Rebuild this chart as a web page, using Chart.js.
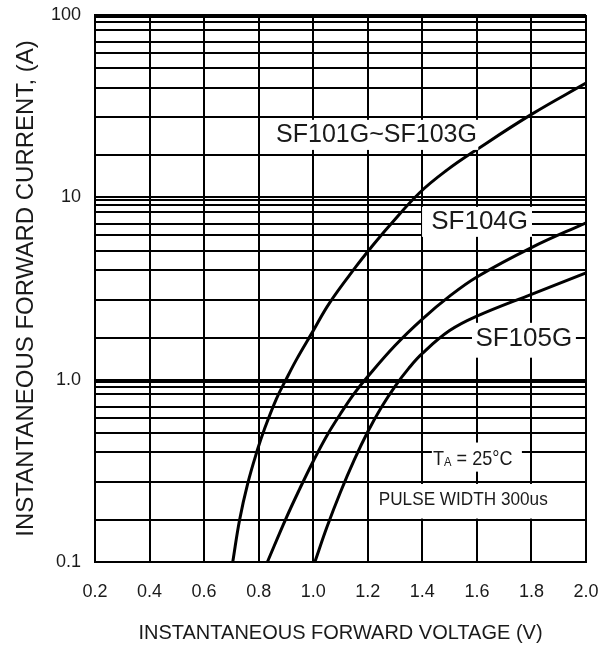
<!DOCTYPE html>
<html>
<head>
<meta charset="utf-8">
<script src="https://cdn.jsdelivr.net/npm/chart.js@4.4.1/dist/chart.umd.min.js"></script>
<style>
  html, body { margin: 0; padding: 0; background: #fff; }
  #wrap { width: 609px; height: 648px; }
</style>
</head>
<body>
<div id="wrap"><canvas id="pic_vf" width="609" height="648"></canvas></div>
<script>
// forward voltage (V) / forward current (A)
var vf101 = [0.705, 0.73, 0.76, 0.795, 0.82, 0.865, 0.9, 0.94, 0.995, 1.06, 1.16, 1.21, 1.28, 1.39, 1.49, 1.6, 1.8, 2.0];
var if101 = [0.1, 0.17, 0.27, 0.41, 0.53, 0.785, 1.0, 1.3, 1.8, 2.64, 4.23, 5.26, 7.01, 10.6, 14.1, 18.3, 28.5, 42.3];
var vf104 = [0.832, 0.9, 0.95, 1.0, 1.05, 1.1, 1.15, 1.2, 1.3, 1.4, 1.5, 1.6, 1.8, 2.0];
var if104 = [0.1, 0.173, 0.251, 0.357, 0.493, 0.65, 0.838, 1.04, 1.54, 2.15, 2.87, 3.66, 5.3, 7.25];
var vf105 = [1.006, 1.05, 1.1, 1.15, 1.2, 1.25, 1.3, 1.35, 1.4, 1.5, 1.6, 1.8, 2.0];
var if105 = [0.1, 0.155, 0.242, 0.362, 0.518, 0.706, 0.92, 1.153, 1.393, 1.858, 2.23, 2.94, 3.85];

var curveNames = ['SF101G~SF103G', 'SF104G', 'SF105G'];
var xTicks = [0.2, 0.4, 0.6, 0.8, 1.0, 1.2, 1.4, 1.6, 1.8, 2.0];
var yLabels = {0.1: '0.1', 1: '1.0', 10: '10', 100: '100'};
// the grid of the original is not a true log grid, these are where its lines sit in each decade
var decadeLines = [1, 1.7, 2.75, 4, 5.1, 6.2, 7.1, 8.3, 9.1, 9.7];
var decades = [0.1, 1, 10];

var FONT = "'Liberation Sans', Arial, sans-serif";

function pts(xs, ys) {
    return xs.map(function (v, i) { return {x: v, y: ys[i]}; });
}

var yGrid = [];
decades.forEach(function (d) {
    decadeLines.forEach(function (m) { yGrid.push(+(d * m).toPrecision(4)); });
});
yGrid.push(100);

// white boxes with text, in data units: box [x1, x2, yTop, yBottom], at [x, y]
var notes = [
    {text: curveNames[0], box: [0.852, 1.605, 26.6, 18.2], at: [1.232, 22], size: 25, w: 0},
    {text: curveNames[1], box: [1.399, 1.802, 8.87, 6.07], at: [1.61, 7.35], size: 26, w: 0},
    {text: curveNames[2], box: [1.582, 1.963, 2.05, 1.32], at: [1.772, 1.67], size: 26, w: 0},
    {text: 'PULSE WIDTH 300us', box: [1.208, 1.996, 0.268, 0.173], at: [1.55, 0.22], size: 19, w: 169}
];

var notesPlugin = {
    id: 'notes',
    afterDatasetsDraw: function (chart) {
        var c = chart.ctx, xs = chart.scales.x, ys = chart.scales.y;
        c.save();
        notes.forEach(function (n) {
            var x1 = xs.getPixelForValue(n.box[0]), x2 = xs.getPixelForValue(n.box[1]);
            var y1 = ys.getPixelForValue(n.box[2]), y2 = ys.getPixelForValue(n.box[3]);
            c.fillStyle = '#fff';
            c.fillRect(x1, y1, x2 - x1, y2 - y1);
            c.fillStyle = '#1a1a1a';
            c.font = n.size + 'px ' + FONT;
            c.textAlign = 'center';
            c.textBaseline = 'middle';
            var tx = xs.getPixelForValue(n.at[0]), ty = ys.getPixelForValue(n.at[1]);
            if (n.w) c.fillText(n.text, tx, ty, n.w);
            else c.fillText(n.text, tx, ty);
        });
        // T_A = 25°C with the small A
        var bx1 = xs.getPixelForValue(1.435), bx2 = xs.getPixelForValue(1.765);
        var by1 = ys.getPixelForValue(0.452), by2 = ys.getPixelForValue(0.313);
        c.fillStyle = '#fff';
        c.fillRect(bx1, by1, bx2 - bx1, by2 - by1);
        var cx = xs.getPixelForValue(1.585), cy = ys.getPixelForValue(0.378);
        c.fillStyle = '#1a1a1a';
        c.textBaseline = 'alphabetic';
        c.textAlign = 'left';
        c.translate(cx, cy + 8);
        c.scale(0.86, 1);
        c.font = '21px ' + FONT;
        var wT = c.measureText('T').width;
        var rest = ' = 25\u00B0C';
        c.font = '13px ' + FONT;
        var wA = c.measureText('A').width;
        c.font = '21px ' + FONT;
        var wR = c.measureText(rest).width;
        var x0 = -(wT + wA + wR) / 2;
        c.fillText('T', x0, 0);
        c.font = '13px ' + FONT;
        c.fillText('A', x0 + wT, 1);
        c.font = '21px ' + FONT;
        c.fillText(rest, x0 + wT + wA, 0);
        c.restore();
    }
};

function curve(label, data) {
    return {
        label: label,
        data: data,
        borderColor: '#000',
        backgroundColor: '#000',
        borderWidth: 3,
        pointRadius: 0,
        fill: false,
        tension: 0.4
    };
}

var chart = new Chart(document.getElementById('pic_vf').getContext('2d'), {
    type: 'line',
    data: {
        datasets: [
            curve(curveNames[0], pts(vf101, if101)),
            curve(curveNames[1], pts(vf104, if104)),
            curve(curveNames[2], pts(vf105, if105))
        ]
    },
    options: {
        responsive: false,
        animation: false,
        layout: {padding: {left: 0, right: 23, top: 15, bottom: 0}},
        plugins: {legend: {display: false}, tooltip: {enabled: false}},
        scales: {
            x: {
                type: 'linear',
                min: 0.2,
                max: 2.0,
                afterBuildTicks: function (s) { s.ticks = xTicks.map(function (v) { return {value: v}; }); },
                afterFit: function (s) { s.height = 86; s.paddingLeft = 0; s.paddingRight = 0; },
                grid: {color: '#000', lineWidth: 2, drawTicks: false},
                border: {color: '#000', width: 2},
                ticks: {
                    padding: 19,
                    color: '#1a1a1a',
                    font: {family: FONT, size: 18},
                    maxRotation: 0,
                    autoSkip: false,
                    callback: function (v) { return v.toFixed(1); }
                },
                title: {
                    display: true,
                    text: 'INSTANTANEOUS FORWARD VOLTAGE (V)',
                    color: '#1a1a1a',
                    font: {family: FONT, size: 20},
                    padding: {top: 0, bottom: 3}
                }
            },
            y: {
                type: 'logarithmic',
                min: 0.1,
                max: 100,
                afterBuildTicks: function (s) { s.ticks = yGrid.map(function (v) { return {value: v}; }); },
                afterFit: function (s) { s.width = 95; s.paddingTop = 0; s.paddingBottom = 0; },
                grid: {color: '#000', lineWidth: 2, drawTicks: false},
                border: {color: '#000', width: 2},
                ticks: {
                    padding: 14,
                    color: '#1a1a1a',
                    font: {family: FONT, size: 18},
                    autoSkip: false,
                    callback: function (v) { return yLabels[v] || ''; }
                },
                title: {
                    display: true,
                    text: 'INSTANTANEOUS FORWARD CURRENT, (A)',
                    color: '#1a1a1a',
                    font: {family: FONT, size: 24},
                    padding: {top: 12, bottom: 0}
                }
            }
        }
    },
    plugins: [notesPlugin]
});
</script>
</body>
</html>
